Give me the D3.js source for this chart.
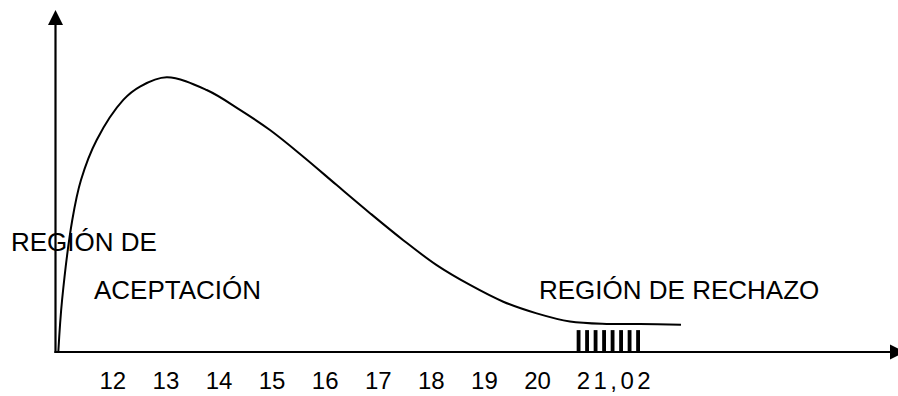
<!DOCTYPE html>
<html>
<head>
<meta charset="utf-8">
<script src="https://cdn.jsdelivr.net/npm/d3@7"></script>
<style>
  html, body { margin: 0; padding: 0; background: #fff; }
  svg { display: block; }
  text { font-family: "Liberation Sans", Arial, sans-serif; font-size: 26px; fill: #000; }
</style>
</head>
<body>
<script>
// ---- data ----
const tickValues = [12, 13, 14, 15, 16, 17, 18, 19, 20];
const tickLabels = ["12", "13", "14", "15", "16", "17", "18", "19", "20"];
const criticalLabel = "21,02";
const curveX = [10.983, 11.054, 11.246, 11.410, 11.706, 12.207, 12.522, 13.025, 13.778, 14.405, 14.970, 15.598,
                16.227, 16.854, 17.481, 18.110, 18.738, 19.365, 19.994, 20.621, 21.312, 21.940, 22.712];
const curveY = [0, 0.152, 0.386, 0.503, 0.620, 0.737, 0.776, 0.803, 0.766, 0.708, 0.649, 0.571,
                0.488, 0.406, 0.327, 0.254, 0.196, 0.147, 0.113, 0.089, 0.082, 0.082, 0.080];
const rejectionRange = [20.747, 21.940];
const rejectionBars = 8;
const rejectionHeight = 0.064;
const labels = ["REGIÓN DE", "ACEPTACIÓN", "REGIÓN DE RECHAZO"];

// ---- chart ----
const W = 898, H = 396;
const svg = d3.select("body").append("svg").attr("width", W).attr("height", H);

const x = d3.scaleLinear().domain([10.93, 26.8]).range([55.5, 898]);
const y = d3.scaleLinear().domain([0, 1]).range([352, 10]);

const x0 = x.range()[0], y0 = y(0);
const arrowLen = 15, arrowHalf = 7.5;

// y axis with arrow
svg.append("line").attr("x1", x0).attr("x2", x0).attr("y1", y0 + 1).attr("y2", y(1) + arrowLen)
  .attr("stroke", "#000").attr("stroke-width", 2.2);
svg.append("path")
  .attr("d", `M${x0},${y(1)} L${x0 - arrowHalf},${y(1) + arrowLen} L${x0 + arrowHalf},${y(1) + arrowLen} Z`)
  .attr("fill", "#000");

// x axis with arrow
const xEnd = W - 8;
svg.append("line").attr("x1", x0 - 1).attr("x2", xEnd).attr("y1", y0).attr("y2", y0)
  .attr("stroke", "#000").attr("stroke-width", 2.2);
svg.append("path")
  .attr("d", `M${xEnd + arrowLen},${y0} L${xEnd},${y0 - arrowHalf} L${xEnd},${y0 + arrowHalf} Z`)
  .attr("fill", "#000");

// tick labels
const axis = d3.axisBottom(x).tickValues(tickValues)
  .tickFormat((d, i) => tickLabels[i]).tickSize(0).tickPadding(20);
const gx = svg.append("g").attr("transform", `translate(0,${y0})`).call(axis);
gx.select(".domain").remove();
gx.selectAll("text").attr("fill", "#000")
  .style("font-family", '"Liberation Sans", Arial, sans-serif').style("font-size", "24px");

// critical value label
svg.append("text").attr("x", x(rejectionRange[0])).attr("y", 389)
  .attr("textLength", 74).attr("lengthAdjust", "spacing")
  .style("font-size", "24px").text(criticalLabel);

// rejection hatch
const band = d3.scaleBand().domain(d3.range(rejectionBars))
  .range([x(rejectionRange[0]), x(rejectionRange[1])]).paddingInner(0.55).paddingOuter(0);
svg.append("g").selectAll("rect").data(d3.range(rejectionBars)).join("rect")
  .attr("x", d => band(d)).attr("width", band.bandwidth())
  .attr("y", y(rejectionHeight)).attr("height", y0 - y(rejectionHeight))
  .attr("fill", "#000");

// density curve
const pts = curveX.map((d, i) => [d, curveY[i]]);
const line = d3.line().x(d => x(d[0])).y(d => y(d[1])).curve(d3.curveCatmullRom.alpha(0.5));
svg.append("path").datum(pts).attr("d", line)
  .attr("fill", "none").attr("stroke", "#000").attr("stroke-width", 2);

// annotations
svg.append("text").attr("x", 11).attr("y", 251).text(labels[0]);
svg.append("text").attr("x", 94).attr("y", 298.5).text(labels[1]);
svg.append("text").attr("x", 539).attr("y", 298.5).text(labels[2]);
</script>
</body>
</html>
